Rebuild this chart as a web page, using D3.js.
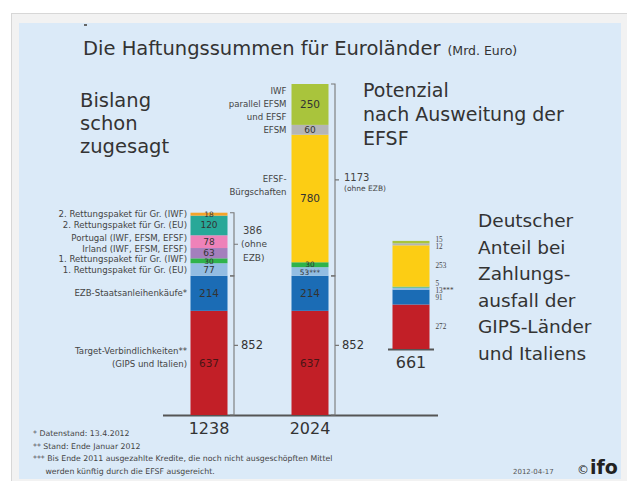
<!DOCTYPE html>
<html><head><meta charset="utf-8">
<script src="https://cdn.jsdelivr.net/npm/d3@7"></script>
<style>body{margin:0;background:#fff}svg{display:block;font-family:"DejaVu Sans",Verdana,sans-serif}</style>
</head><body><svg id="c" width="627" height="481"></svg>
<script>
// ---------------- data ----------------
const barTotals = ["1238", "2024", "661"];

const bar1Keys = ["target", "ezb", "rp1eu", "rp1iwf", "irland", "portugal", "rp2eu", "rp2iwf"];
const bar1Values = [637, 214, 77, 30, 63, 78, 120, 18];
const bar1ValueLabels = ["637", "214", "77", "30", "63", "78", "120", "18"];
const bar1Names = [
  ["Target-Verbindlichkeiten**", "(GIPS und Italien)"],
  ["EZB-Staatsanleihenkäufe*"],
  ["1. Rettungspaket für Gr. (EU)"],
  ["1. Rettungspaket für Gr. (IWF)"],
  ["Irland (IWF, EFSM, EFSF)"],
  ["Portugal (IWF, EFSM, EFSF)"],
  ["2. Rettungspaket für Gr. (EU)"],
  ["2. Rettungspaket für Gr. (IWF)"]
];

const bar2Keys = ["target", "ezb", "rp1eu", "rp1iwf", "efsf", "efsm", "iwf"];
const bar2Values = [637, 214, 53, 30, 780, 60, 250];
const bar2ValueLabels = ["637", "214", "53***", "30", "780", "60", "250"];
const bar2Names = [[], [], [], [], ["EFSF-", "Bürgschaften"], ["EFSM"], ["IWF", "parallel EFSM", "und EFSF"]];

const bar3Keys = ["target", "ezb", "rp1eu", "rp1iwf", "efsf", "efsm", "iwf"];
const bar3Values = [272, 91, 13, 5, 253, 12, 15];
const bar3ValueLabels = ["272", "91", "13***", "5", "253", "12", "15"];

const bracketTotals = [["852", "386"], ["852", "1173"]];
const bracketNotes = [["(ohne", "EZB)"], ["(ohne EZB)"]];

const titleText = "Die Haftungssummen für Euroländer";
const unitText = "(Mrd. Euro)";
const headingLeft = ["Bislang", "schon", "zugesagt"];
const headingMid = ["Potenzial", "nach Ausweitung der", "EFSF"];
const headingRight = ["Deutscher", "Anteil bei", "Zahlungs-", "ausfall der", "GIPS-Länder", "und Italiens"];
const footnotes = [
  "* Datenstand: 13.4.2012",
  "** Stand: Ende Januar 2012",
  "*** Bis Ende 2011 ausgezahlte Kredite, die noch nicht ausgeschöpften Mittel",
  "     werden künftig durch die EFSF ausgereicht."
];
const dateText = "2012-04-17";

// ---------------- styles ----------------
const palette = {
  target: "#c21f27", ezb: "#1b6cb5", rp1eu: "#93bde2", rp1iwf: "#2fb34b",
  irland: "#a47fbd", portugal: "#ee82b9", rp2eu: "#28a898", rp2iwf: "#f4a42a",
  efsf: "#fccd14", efsm: "#b5b5b5", iwf: "#a9c43c"
};
const nameShift = { efsf: -13 };
const textCol = "#333";

const svg = d3.select("#c");
const W = 627, H = 481;

// frame / panel
svg.append("rect").attr("width", W).attr("height", H).attr("fill", "#fff");
svg.append("rect").attr("x", 11.5).attr("y", 13.5).attr("width", 616).attr("height", 468)
  .attr("fill", "#f2f2f2").attr("stroke", "#d7d7d7");
svg.append("rect").attr("x", 19).attr("y", 23).attr("width", 602).attr("height", 456).attr("fill", "#dbeaf8");
svg.append("rect").attr("x", 84).attr("y", 24).attr("width", 3).attr("height", 2).attr("fill", "#666");

// ---------------- scales ----------------
const x = d3.scalePoint().domain(barTotals).range([209, 411]);
const h = d3.scaleLinear().domain([0, 2024]).range([0, 331]);
const baselines = [415, 415, 349];
const barW = 37;

const bars = [
  { keys: bar1Keys, values: bar1Values, labels: bar1ValueLabels },
  { keys: bar2Keys, values: bar2Values, labels: bar2ValueLabels },
  { keys: bar3Keys, values: bar3Values, labels: bar3ValueLabels }
];
bars.forEach((b, i) => {
  const base = baselines[i];
  const ends = d3.cumsum(b.values);
  b.cx = x(barTotals[i]);
  b.base = base;
  b.segs = b.values.map((v, j) => ({
    key: b.keys[j], v, label: b.labels[j],
    y0: base - h(ends[j] - v), y1: base - h(ends[j])
  }));
  b.segs.forEach(s => s.mid = (s.y0 + s.y1) / 2);
});

function relax(pos, gaps, iters) {
  for (let it = 0; it < iters; it++) {
    for (let j = 0; j < pos.length - 1; j++) {
      const d = pos[j] - pos[j + 1];
      if (d < gaps[j]) { const m = (gaps[j] - d) / 2; pos[j] += m; pos[j + 1] -= m; }
    }
  }
  return pos;
}

// ---------------- baselines ----------------
svg.append("line").attr("x1", 163).attr("x2", 438).attr("y1", baselines[0] + 0.5).attr("y2", baselines[0] + 0.5)
  .attr("stroke", "#555").attr("stroke-width", 2);
svg.append("line").attr("x1", x(barTotals[2]) - 23).attr("x2", x(barTotals[2]) + 23)
  .attr("y1", baselines[2] + 0.5).attr("y2", baselines[2] + 0.5).attr("stroke", "#555").attr("stroke-width", 2);

// ---------------- bars ----------------
bars.forEach((b, i) => {
  const g = svg.append("g");
  g.selectAll("rect").data(b.segs).join("rect")
    .attr("x", b.cx - barW / 2).attr("width", barW)
    .attr("y", d => d.y1).attr("height", d => d.y0 - d.y1)
    .attr("fill", d => palette[d.key]);
  if (i < 2) {
    const fs = b.segs.map(d => (d.y0 - d.y1) > 20 ? 10.5 : ((d.y0 - d.y1) > 9 ? 9 : 7.4));
    const gaps = fs.slice(0, -1).map((f, j) => (f + fs[j + 1]) / 2 + 0.4);
    const pos = relax(b.segs.map(s => s.mid), gaps, 100);
    g.selectAll("text").data(b.segs).join("text")
      .attr("x", b.cx).attr("y", (d, j) => pos[j])
      .attr("text-anchor", "middle").attr("dominant-baseline", "central")
      .attr("font-size", (d, j) => fs[j])
      .attr("fill", d => d.key === "target" ? "#4a1515" : textCol)
      .text(d => d.label);
  } else {
    const pos = relax(b.segs.map(s => s.mid), b.segs.map(() => 7), 100);
    g.selectAll("text").data(b.segs).join("text")
      .attr("x", b.cx + barW / 2 + 6).attr("y", (d, j) => pos[j])
      .attr("dominant-baseline", "central")
      .attr("font-family", "Liberation Serif, serif").attr("font-size", 7.2)
      .attr("fill", "#444").text(d => d.label);
  }
  svg.append("text").attr("x", b.cx).attr("y", b.base + 19)
    .attr("text-anchor", "middle").attr("font-size", 16).attr("fill", textCol)
    .text(barTotals[i]);
});

// ---------------- category labels ----------------
{
  const b = bars[0];
  const pos = b.segs.map(s => s.mid);
  for (let j = 1; j < pos.length; j++) pos[j] = Math.min(pos[j], pos[j - 1] - 10.5);
  const g = svg.append("g").attr("font-size", 8.6).attr("fill", "#444").attr("text-anchor", "end");
  b.segs.forEach((s, j) => {
    const lines = bar1Names[j];
    const y0 = lines.length > 1 ? pos[j] - 12 : pos[j];
    lines.forEach((t, k) => g.append("text").attr("x", 187).attr("y", y0 + k * 13)
      .attr("dominant-baseline", "central").text(t));
  });
}
{
  const b = bars[1];
  const g = svg.append("g").attr("font-size", 8.6).attr("fill", "#444").attr("text-anchor", "end");
  b.segs.forEach((s, j) => {
    const lines = bar2Names[j];
    const lh = 13;
    const y0 = s.mid + (nameShift[s.key] || 0) - (lines.length - 1) * lh / 2;
    lines.forEach((t, k) => g.append("text").attr("x", b.cx - barW / 2 - 5).attr("y", y0 + k * lh)
      .attr("dominant-baseline", "central").text(t));
  });
}

// ---------------- brackets ----------------
[0, 1].forEach(i => {
  const b = bars[i];
  const bx = b.cx + barW / 2 + 6.5;
  const groups = [[0, 2], [2, b.segs.length]];
  groups.forEach(([a, z], gi) => {
    const yBot = b.segs[a].y0, yTop = b.segs[z - 1].y1, mid = (yBot + yTop) / 2;
    svg.append("path")
      .attr("d", `M${bx - 4},${yTop}H${bx}V${yBot}H${bx - 4}M${bx},${mid}H${bx + 4}`)
      .attr("fill", "none").attr("stroke", "#777").attr("stroke-width", 1.1);
    if (gi === 0) {
      svg.append("text").attr("x", bx + 7).attr("y", mid).attr("dominant-baseline", "central")
        .attr("font-size", 11.5).attr("fill", textCol).text(bracketTotals[i][0]);
    } else if (i === 0) {
      svg.append("text").attr("x", bx + 9).attr("y", mid - 14).attr("dominant-baseline", "central")
        .attr("font-size", 10).attr("fill", "#444").text(bracketTotals[i][1]);
      bracketNotes[i].forEach((t, k) => svg.append("text").attr("x", bx + 7 + (k ? 2 : 0)).attr("y", mid + k * 14)
        .attr("dominant-baseline", "central").attr("font-size", 9).attr("fill", "#444").text(t));
    } else {
      svg.append("text").attr("x", bx + 9).attr("y", mid - 2).attr("dominant-baseline", "central")
        .attr("font-size", 10).attr("fill", "#444").text(bracketTotals[i][1]);
      svg.append("text").attr("x", bx + 9).attr("y", mid + 9).attr("dominant-baseline", "central")
        .attr("font-size", 7.5).attr("fill", "#444").text(bracketNotes[i][0]);
    }
  });
});

// ---------------- titles / headings ----------------
const title = svg.append("text").attr("x", 83).attr("y", 55).attr("fill", textCol);
title.append("tspan").attr("font-size", 19.5).text(titleText);
title.append("tspan").attr("font-size", 12.5).attr("dx", 7).text(unitText);

function block(lines, x0, y0, lh, fs) {
  lines.forEach((t, k) => svg.append("text").attr("x", x0).attr("y", y0 + k * lh)
    .attr("font-size", fs).attr("fill", textCol).text(t));
}
block(headingLeft, 80, 107, 23, 19.5);
block(headingMid, 363, 97, 24, 19);
block(headingRight, 478, 227, 26.6, 18.5);

// ---------------- footnotes ----------------
footnotes.forEach((t, k) => svg.append("text").attr("x", 33).attr("y", 436 + k * 12.5)
  .attr("font-size", 7.8).attr("fill", "#444").style("white-space", "pre").text(t));
svg.append("text").attr("x", 513).attr("y", 474).attr("font-size", 7).attr("fill", "#555").text(dateText);
const logo = svg.append("text").attr("x", 577).attr("y", 474).attr("fill", "#222");
logo.append("tspan").attr("font-size", 12).text("©");
logo.append("tspan").attr("font-size", 19).attr("font-weight", "bold").attr("dx", 1).text("ifo");
</script>
</body></html>
